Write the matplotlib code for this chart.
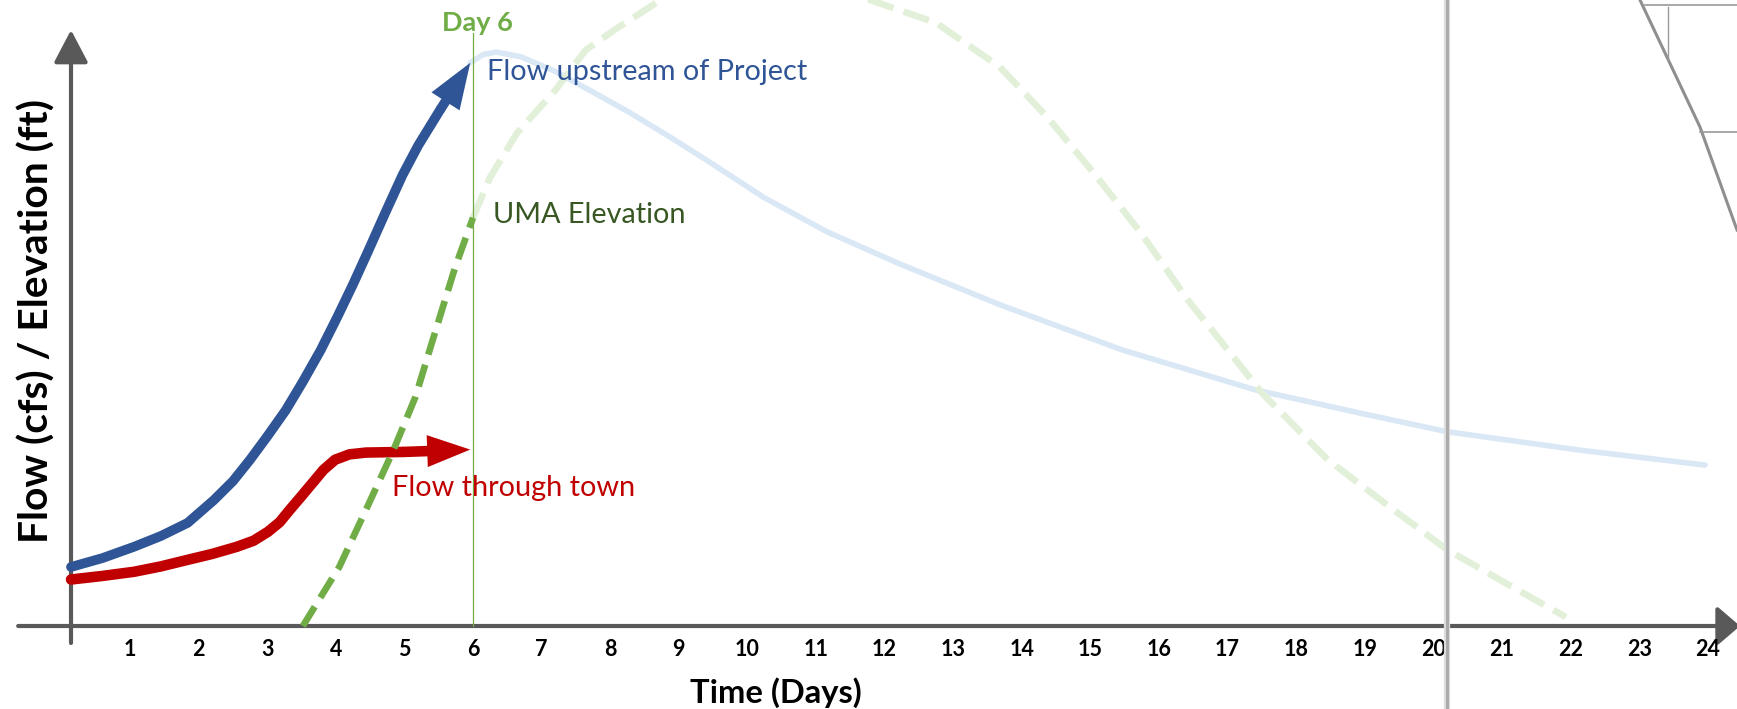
import matplotlib
matplotlib.use('Agg')
import matplotlib.pyplot as plt
from matplotlib.lines import Line2D

plt.rcParams['font.family'] = ['Lato', 'DejaVu Sans']

W, H = 1737, 709

# hydrograph sketch values (x in days, y in relative units)
upstream_rise_days = [0.14, 0.6, 1.06, 1.45, 1.84, 2.22, 2.5, 2.75, 3.0, 3.27, 3.52, 3.78,
                      4.02, 4.25, 4.46, 4.72, 4.97, 5.2, 5.52, 5.96]
upstream_rise_vals = [9.9, 11.4, 13.3, 15.1, 17.3, 21.1, 24.3, 27.9, 31.8, 36.2, 41.0, 46.3,
                      51.8, 57.3, 62.6, 69.3, 75.6, 80.6, 86.6, 94.5]

upstream_fall_days = [5.96, 6.15, 6.34, 6.7, 7.17, 7.7, 8.29, 8.85, 9.40, 10.24, 11.15,
                      12.19, 13.68, 15.47, 17.41, 18.94, 20.20, 22.14, 23.96]
upstream_fall_vals = [94.5, 95.9, 96.3, 95.5, 93.2, 89.9, 86.1, 82.2, 78.2, 71.9, 66.2,
                      60.9, 53.9, 46.3, 39.6, 35.7, 32.6, 29.5, 27.0]

town_days = [0.14, 0.6, 1.06, 1.45, 1.84, 2.2, 2.56, 2.8, 3.01, 3.18, 3.33, 3.5, 3.66,
             3.82, 3.99, 4.2, 4.44, 4.97, 5.96]
town_vals = [7.8, 8.4, 9.1, 10.0, 11.1, 12.1, 13.3, 14.3, 15.8, 17.4, 19.5, 21.8, 24.0,
             26.2, 27.9, 28.8, 29.1, 29.2, 29.6]

uma_rise_days = [3.52, 4.05, 4.44, 4.84, 5.16, 5.40, 5.74, 6.0]
uma_rise_vals = [0.0, 9.9, 19.5, 29.5, 38.4, 47.5, 60.2, 68.5]

uma_after_days = [6.0, 6.25, 6.64, 7.20, 7.64, 8.06, 8.73, 9.5, 10.3, 11.0, 11.8, 12.75,
                  13.68, 14.37, 15.05, 15.74, 16.42, 16.97, 17.50, 18.46, 19.42, 20.20,
                  21.16, 21.93]
uma_after_vals = [68.5, 75.3, 82.7, 89.9, 96.6, 100.0, 105.0, 109.0, 111.0, 109.5, 105.0,
                  101.2, 93.8, 85.4, 76.0, 65.9, 54.7, 46.8, 39.1, 27.9, 19.5, 12.8,
                  6.5, 1.5]

day_ticks = list(range(1, 25))
marker_day = 6

# pixel layout of the slide
X0_PX, PX_PER_DAY = 61.4, 68.6
AXIS_Y_PX, PX_PER_UNIT = 626, 5.96
y_axis_day = 0.14

C_BLUE = '#2f5597'
C_BLUE_LT = '#dae7f5'
C_RED = '#c00000'
C_GREEN = '#70ad47'
C_GREEN_LT = '#e2f0d9'
C_GREEN_DK = '#385723'
C_AXIS = '#595959'


def fx(px):
    return px / W


def fy(py):
    return 1 - py / H


def arrow_curve(ax, days, vals, color, lw, head_len, head_w, zorder=3):
    # curve body, then the last segment as a filled arrow
    ax.plot(days[:-1], vals[:-1], color=color, lw=lw, solid_capstyle='round',
            solid_joinstyle='round', zorder=zorder)
    style = f'simple,head_length={head_len},head_width={head_w},tail_width={lw}'
    ax.annotate('', xy=(days[-1], vals[-1]), xytext=(days[-2], vals[-2]),
                arrowprops=dict(arrowstyle=style, mutation_scale=1, color=color,
                                lw=0, shrinkA=0, shrinkB=0), zorder=zorder)


fig = plt.figure(figsize=(W / 100, H / 100), dpi=100)
ax = fig.add_axes([0, 0, 1, 1])
ax.set_xlim(-X0_PX / PX_PER_DAY, (W - X0_PX) / PX_PER_DAY)
ax.set_ylim(-(H - AXIS_Y_PX) / PX_PER_UNIT, AXIS_Y_PX / PX_PER_UNIT)
ax.axis('off')

# faded continuation of both curves
ax.plot(upstream_fall_days, upstream_fall_vals, color=C_BLUE_LT, lw=4,
        solid_capstyle='round', solid_joinstyle='round', zorder=1)
ax.plot(uma_after_days, uma_after_vals, color=C_GREEN_LT, lw=4.8,
        dashes=(4.0, 1.6), zorder=1)

# axes with arrow heads
ax.annotate('', xy=(y_axis_day, 100), xytext=(y_axis_day, -2.85),
            arrowprops=dict(arrowstyle='-|>,head_length=2.0,head_width=1.05',
                            mutation_scale=10, color=C_AXIS, lw=3,
                            shrinkA=0, shrinkB=0), annotation_clip=False, zorder=2)
ax.annotate('', xy=(24.47, 0), xytext=(-0.63, 0),
            arrowprops=dict(arrowstyle='-|>,head_length=1.4,head_width=1.2',
                            mutation_scale=10, color=C_AXIS, lw=3,
                            shrinkA=0, shrinkB=0), annotation_clip=False, zorder=2)

# flow curves ending in arrows at day 6
arrow_curve(ax, upstream_rise_days, upstream_rise_vals, C_BLUE, 7, 33, 24)
arrow_curve(ax, town_days, town_vals, C_RED, 7.6, 31, 23)

ax.plot(uma_rise_days, uma_rise_vals, color=C_GREEN, lw=4.8,
        dashes=(3.4, 1.6), zorder=4)

# day 6 marker line
ax.plot([marker_day, marker_day], [0, 99.5], color=C_GREEN, lw=0.9, zorder=6)

# tick labels
for d in day_ticks:
    ax.text(d, -4.0, str(d), ha='center', va='center', fontsize=15.5,
            fontweight='bold', color='black')

fig.text(fx(477), fy(31), 'Day 6', ha='center', va='baseline', fontsize=19.5,
         fontweight='bold', color=C_GREEN)
fig.text(fx(487), fy(80), 'Flow upstream of Project', ha='left', va='baseline',
         fontsize=20.8, color=C_BLUE)
fig.text(fx(493), fy(223), 'UMA Elevation', ha='left', va='baseline',
         fontsize=20.8, color=C_GREEN_DK)
fig.text(fx(392), fy(496), 'Flow through town', ha='left', va='baseline',
         fontsize=20.8, color=C_RED)
fig.text(fx(776), fy(703), 'Time (Days)', ha='center', va='baseline',
         fontsize=23.6, fontweight='bold', color='black')
fig.text(fx(37), fy(321), 'Flow (cfs) / Elevation (ft)', ha='center', va='center',
         rotation=90, fontsize=29.3, fontweight='bold', color='black')

# overlapping map frame at the right edge
fig.add_artist(Line2D([fx(1447), fx(1447)], [0, 1], color='#dedede', lw=4.5,
                      transform=fig.transFigure))
fig.add_artist(Line2D([fx(1447), fx(1447)], [0, 1], color='#ababab', lw=2.2,
                      transform=fig.transFigure))
fig.add_artist(Line2D([fx(1640), fx(1700), fx(1737)], [fy(0), fy(127), fy(230)],
                      color='#8f8f8f', lw=2.2, transform=fig.transFigure))
fig.add_artist(Line2D([fx(1645), fx(1737)], [fy(5), fy(5)], color='#9a9a9a', lw=1.2,
                      transform=fig.transFigure))
fig.add_artist(Line2D([fx(1668), fx(1668)], [fy(7), fy(60)], color='#9a9a9a', lw=1.0,
                      transform=fig.transFigure))
fig.add_artist(Line2D([fx(1700), fx(1737)], [fy(132), fy(132)], color='#9a9a9a', lw=1.2,
                      transform=fig.transFigure))

fig.savefig('out.png', dpi=100)
